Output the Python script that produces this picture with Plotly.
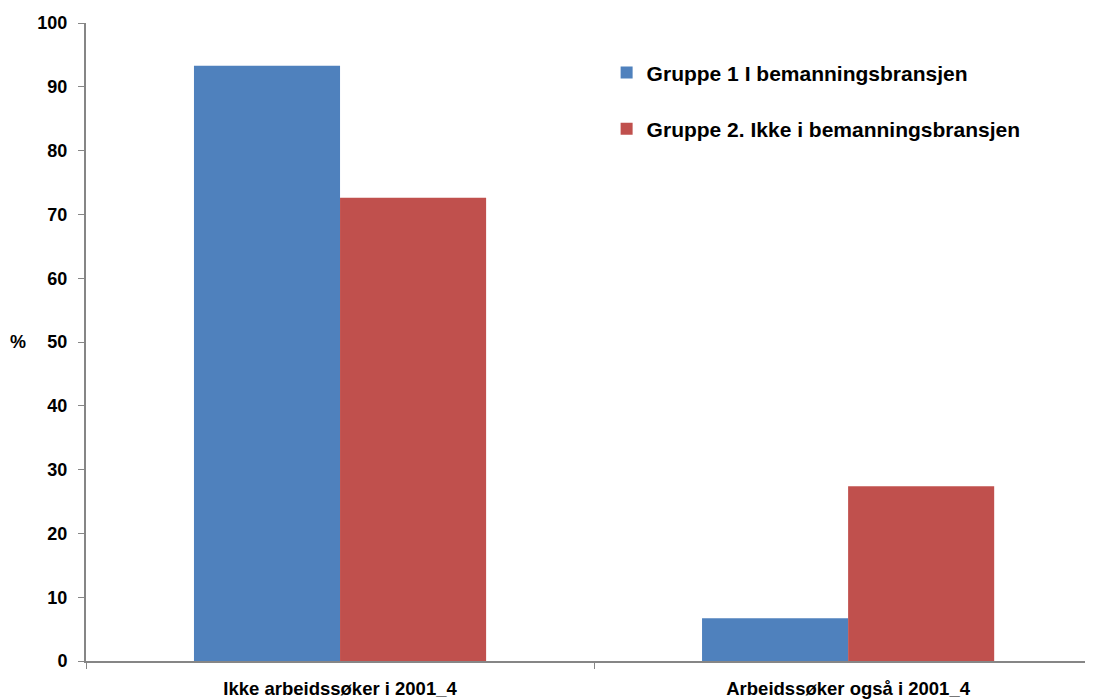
import plotly.graph_objects as go

categories = ["Ikke arbeidssøker i 2001_4", "Arbeidssøker også i 2001_4"]
series_names = ["Gruppe 1 I bemanningsbransjen", "Gruppe 2. Ikke i bemanningsbransjen"]
gruppe1 = [93.3, 6.7]
gruppe2 = [72.6, 27.4]
y_ticks = [0, 10, 20, 30, 40, 50, 60, 70, 80, 90, 100]

colors = ["#4F81BD", "#C0504D"]

fig = go.Figure()
for i, (name, vals) in enumerate(zip(series_names, [gruppe1, gruppe2])):
    fig.add_trace(go.Bar(
        x=categories, y=vals, name=name,
        marker=dict(color=colors[i], line=dict(width=0)),
        legendgroup=f"g{i}",
    ))

fig.update_layout(
    width=1085, height=691,
    margin=dict(l=78, r=0, t=15, b=38),
    paper_bgcolor="white", plot_bgcolor="white",
    barmode="group", bargap=0.425, bargroupgap=0,
    showlegend=True,
    legend=dict(
        x=0.517, y=0.954, xanchor="left", yanchor="top",
        font=dict(family="Liberation Sans, Arial", size=21, color="black", weight="bold"),
        tracegroupgap=26, bgcolor="rgba(0,0,0,0)",
        itemwidth=30,
    ),
    font=dict(family="Liberation Sans, Arial", color="black"),
)

fig.update_xaxes(
    range=[-0.5, 1.482],
    showline=True, linecolor="#868686", linewidth=2,
    ticks="outside", tickson="boundaries", ticklen=6, tickcolor="#868686", tickwidth=1,
    ticklabelstandoff=10,
    tickfont=dict(family="Liberation Sans, Arial", size=18.5, weight="bold", color="black"),
    showgrid=False, zeroline=False,
)
fig.update_yaxes(
    range=[0, 100], tickvals=y_ticks,
    showline=True, linecolor="#868686", linewidth=2,
    ticks="outside", ticklen=6, tickcolor="#868686", tickwidth=1,
    ticklabelstandoff=7,
    tickfont=dict(family="Liberation Sans, Arial", size=18, weight="bold", color="black"),
    showgrid=False, zeroline=False,
)

fig.add_annotation(
    text="%", xref="paper", yref="paper", x=-0.068, y=0.5,
    xanchor="center", yanchor="middle", showarrow=False,
    font=dict(family="Liberation Sans, Arial", size=18, weight="bold", color="black"),
)

fig.write_html("out.html")
